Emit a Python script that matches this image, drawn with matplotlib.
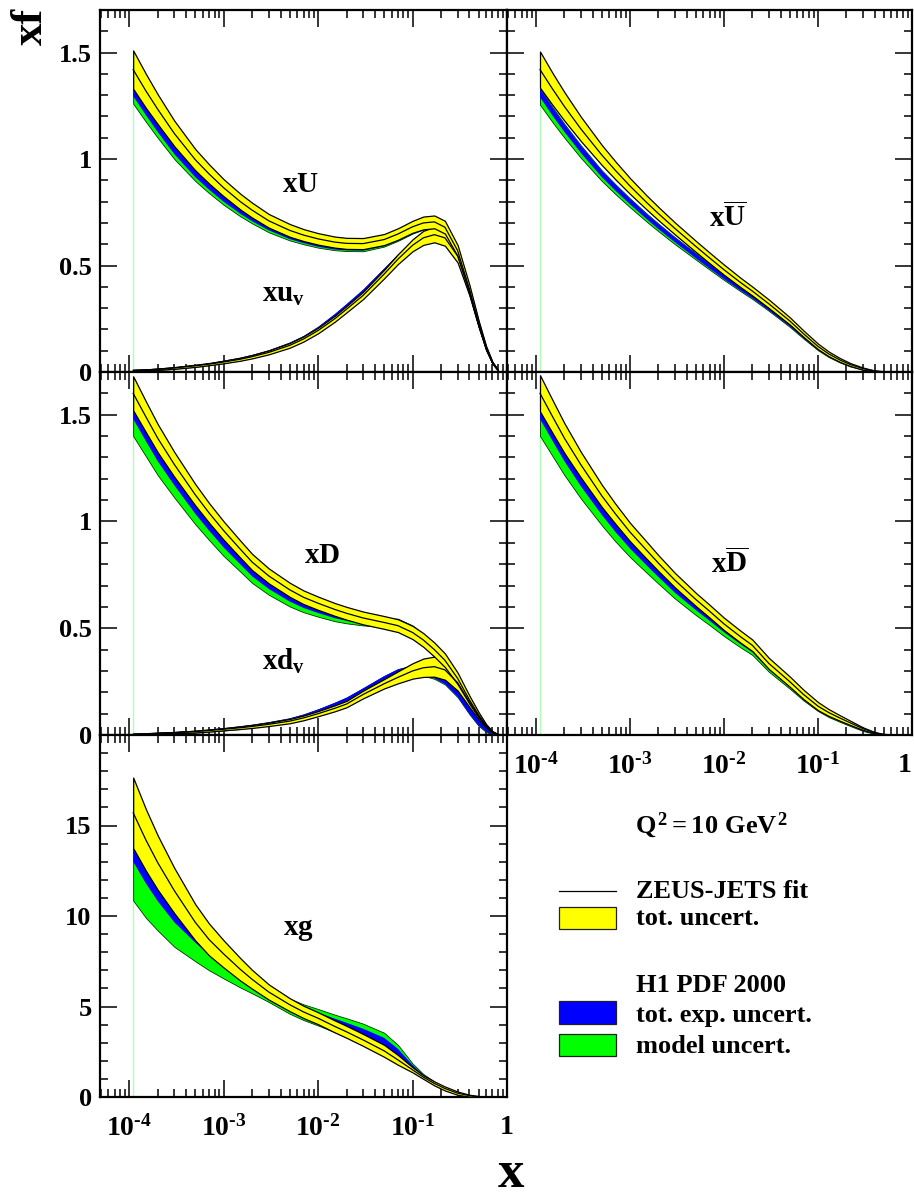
import numpy as np
import matplotlib
matplotlib.use('Agg')
import matplotlib.pyplot as plt
from matplotlib.ticker import LogLocator, MultipleLocator, NullFormatter
from matplotlib.patches import Rectangle
from matplotlib.lines import Line2D

plt.rcParams['font.family'] = ['Liberation Serif', 'DejaVu Serif']
plt.rcParams['font.weight'] = 'bold'
plt.rcParams['mathtext.fontset'] = 'custom'
for k in ('rm', 'it', 'bf', 'sf'):
    plt.rcParams['mathtext.' + k] = 'Liberation Serif:bold'

# ---------------- data ----------------
X = [1.1e-4, 1.5e-4, 2e-4, 3e-4, 5e-4, 7e-4, 1e-3, 1.5e-3, 2e-3, 3e-3,
     5e-3, 7e-3, 0.01, 0.015, 0.02, 0.03, 0.05, 0.07, 0.1, 0.13,
     0.17, 0.22, 0.3, 0.4, 0.5, 0.6, 0.7, 0.8]

# xU
XU_ZEUS = [1.42, 1.32, 1.234, 1.12, 0.997, 0.93, 0.865, 0.80, 0.76, 0.71,
           0.665, 0.643, 0.625, 0.61, 0.604, 0.603, 0.622, 0.648, 0.682, 0.70,
           0.705, 0.68, 0.57, 0.39, 0.23, 0.115, 0.045, 0.01]
XU_ZEUS_ERR = [0.09, 0.08, 0.07, 0.06, 0.05, 0.045, 0.04, 0.037, 0.035, 0.032,
               0.03, 0.028, 0.027, 0.026, 0.026, 0.026, 0.026, 0.027, 0.028, 0.03,
               0.03, 0.03, 0.026, 0.019, 0.012, 0.007, 0.003, 0.001]
XU_H1 = [1.315, 1.225, 1.145, 1.04, 0.93, 0.87, 0.812, 0.755, 0.72, 0.676,
         0.635, 0.615, 0.598, 0.585, 0.581, 0.58, 0.602, 0.63, 0.665, 0.685,
         0.69, 0.668, 0.562, 0.385, 0.225, 0.112, 0.044, 0.01]
XU_H1_EXP = [0.02, 0.019, 0.018, 0.017, 0.015, 0.014, 0.013, 0.012, 0.012, 0.011,
             0.011, 0.01, 0.01, 0.01, 0.01, 0.01, 0.011, 0.012, 0.013, 0.014,
             0.015, 0.015, 0.013, 0.01, 0.007, 0.004, 0.002, 0.001]
XU_H1_TOT_DN = [0.055, 0.05, 0.045, 0.04, 0.033, 0.03, 0.027, 0.024, 0.022, 0.02,
                0.017, 0.015, 0.014, 0.013, 0.013, 0.013, 0.013, 0.014, 0.015, 0.016,
                0.017, 0.017, 0.015, 0.012, 0.008, 0.005, 0.002, 0.001]
XU_H1_TOT_UP = [0.023, 0.022, 0.021, 0.02, 0.018, 0.017, 0.016, 0.015, 0.015, 0.014,
                0.014, 0.013, 0.013, 0.013, 0.013, 0.013, 0.014, 0.015, 0.016, 0.017,
                0.018, 0.018, 0.016, 0.013, 0.009, 0.005, 0.002, 0.001]

# xu_v
XUV_ZEUS = [0.008, 0.01, 0.013, 0.019, 0.029, 0.037, 0.047, 0.06, 0.072, 0.092,
            0.125, 0.155, 0.195, 0.25, 0.295, 0.36, 0.46, 0.53, 0.595, 0.63,
            0.645, 0.63, 0.545, 0.38, 0.225, 0.112, 0.044, 0.01]
XUV_ZEUS_ERR = [0.002, 0.002, 0.003, 0.004, 0.005, 0.005, 0.006, 0.007, 0.008, 0.009,
                0.011, 0.012, 0.013, 0.014, 0.015, 0.017, 0.02, 0.023, 0.028, 0.033,
                0.036, 0.037, 0.031, 0.02, 0.012, 0.007, 0.003, 0.001]
XUV_H1 = [0.008, 0.01, 0.013, 0.019, 0.029, 0.037, 0.048, 0.061, 0.074, 0.095,
          0.13, 0.161, 0.203, 0.262, 0.308, 0.375, 0.473, 0.538, 0.597, 0.627,
          0.638, 0.62, 0.535, 0.372, 0.22, 0.108, 0.042, 0.009]
XUV_H1_EXP = [0.001, 0.001, 0.002, 0.002, 0.003, 0.003, 0.004, 0.005, 0.005, 0.006,
              0.007, 0.007, 0.008, 0.009, 0.01, 0.011, 0.012, 0.013, 0.014, 0.015,
              0.015, 0.015, 0.013, 0.01, 0.007, 0.004, 0.002, 0.001]
XUV_H1_TOT_DN = [0.003, 0.003, 0.004, 0.004, 0.005, 0.005, 0.006, 0.007, 0.007, 0.008,
                 0.009, 0.009, 0.01, 0.011, 0.012, 0.013, 0.014, 0.015, 0.016, 0.017,
                 0.017, 0.017, 0.015, 0.012, 0.009, 0.006, 0.004, 0.003]
XUV_H1_TOT_UP = XUV_H1_TOT_DN

# xUbar
XUB_ZEUS = [1.42, 1.328, 1.247, 1.141, 1.019, 0.946, 0.873, 0.796, 0.744, 0.674,
            0.59, 0.536, 0.48, 0.42, 0.38, 0.32, 0.24, 0.18, 0.12, 0.085,
            0.057, 0.035, 0.016, 0.005, 0.0015, 0.0, 0.0, 0.0]
XUB_ZEUS_ERR = [0.085, 0.075, 0.067, 0.057, 0.047, 0.042, 0.037, 0.033, 0.031, 0.028,
                0.026, 0.025, 0.024, 0.022, 0.021, 0.02, 0.017, 0.015, 0.013, 0.011,
                0.009, 0.007, 0.005, 0.002, 0.001, 0.0, 0.0, 0.0]
XUB_H1 = [1.31, 1.222, 1.145, 1.045, 0.93, 0.865, 0.80, 0.73, 0.683, 0.62,
          0.545, 0.496, 0.446, 0.392, 0.355, 0.298, 0.222, 0.166, 0.109, 0.076,
          0.05, 0.03, 0.013, 0.004, 0.001, 0.0, 0.0, 0.0]
XUB_H1_EXP = [0.02, 0.019, 0.018, 0.017, 0.015, 0.014, 0.013, 0.012, 0.012, 0.011,
              0.011, 0.01, 0.01, 0.01, 0.009, 0.009, 0.008, 0.007, 0.006, 0.005,
              0.004, 0.003, 0.002, 0.001, 0.0, 0.0, 0.0, 0.0]
XUB_H1_TOT_DN = [0.055, 0.05, 0.045, 0.04, 0.033, 0.03, 0.027, 0.024, 0.022, 0.02,
                 0.017, 0.015, 0.014, 0.013, 0.012, 0.011, 0.01, 0.009, 0.007, 0.006,
                 0.005, 0.004, 0.002, 0.001, 0.0, 0.0, 0.0, 0.0]
XUB_H1_TOT_UP = [0.022, 0.021, 0.02, 0.019, 0.017, 0.016, 0.015, 0.014, 0.014, 0.013,
                 0.013, 0.012, 0.012, 0.012, 0.011, 0.011, 0.01, 0.009, 0.008, 0.007,
                 0.006, 0.005, 0.003, 0.001, 0.0, 0.0, 0.0, 0.0]

# xD
XD_ZEUS = [1.60, 1.49, 1.39, 1.267, 1.125, 1.04, 0.957, 0.87, 0.81, 0.745,
           0.68, 0.645, 0.617, 0.588, 0.57, 0.548, 0.527, 0.512, 0.48, 0.445,
           0.40, 0.35, 0.265, 0.165, 0.095, 0.045, 0.015, 0.003]
XD_ZEUS_ERR = [0.08, 0.072, 0.066, 0.058, 0.05, 0.046, 0.043, 0.04, 0.038, 0.035,
               0.033, 0.032, 0.031, 0.03, 0.03, 0.03, 0.03, 0.03, 0.031, 0.032,
               0.033, 0.032, 0.027, 0.019, 0.012, 0.006, 0.003, 0.001]
XD_H1 = [1.505, 1.40, 1.305, 1.19, 1.055, 0.975, 0.895, 0.815, 0.758, 0.698,
         0.638, 0.608, 0.584, 0.56, 0.548, 0.535, 0.527, 0.524, 0.49, 0.45,
         0.39, 0.325, 0.23, 0.13, 0.065, 0.025, 0.006, 0.001]
XD_H1_EXP = [0.025, 0.024, 0.023, 0.021, 0.019, 0.018, 0.017, 0.016, 0.015, 0.014,
             0.013, 0.013, 0.013, 0.013, 0.013, 0.014, 0.016, 0.018, 0.02, 0.021,
             0.022, 0.022, 0.02, 0.015, 0.01, 0.005, 0.002, 0.001]
XD_H1_TOT_DN = [0.105, 0.095, 0.088, 0.078, 0.068, 0.062, 0.057, 0.05, 0.046, 0.041,
                0.036, 0.033, 0.03, 0.027, 0.025, 0.022, 0.02, 0.02, 0.022, 0.023,
                0.024, 0.024, 0.022, 0.017, 0.011, 0.006, 0.002, 0.001]
XD_H1_TOT_UP = [0.028, 0.027, 0.026, 0.024, 0.022, 0.021, 0.02, 0.019, 0.018, 0.017,
                0.016, 0.016, 0.016, 0.016, 0.016, 0.017, 0.019, 0.021, 0.023, 0.024,
                0.025, 0.025, 0.023, 0.017, 0.011, 0.006, 0.002, 0.001]

# xd_v
XDV_ZEUS = [0.004, 0.006, 0.008, 0.011, 0.016, 0.021, 0.027, 0.034, 0.04, 0.05,
            0.065, 0.08, 0.10, 0.125, 0.145, 0.19, 0.24, 0.27, 0.30, 0.315,
            0.32, 0.305, 0.245, 0.155, 0.088, 0.042, 0.014, 0.003]
XDV_ZEUS_ERR = [0.001, 0.0015, 0.002, 0.003, 0.004, 0.005, 0.005, 0.006, 0.007, 0.008,
                0.01, 0.011, 0.012, 0.014, 0.015, 0.018, 0.022, 0.028, 0.036, 0.043,
                0.047, 0.046, 0.037, 0.024, 0.014, 0.007, 0.003, 0.001]
XDV_H1 = [0.004, 0.006, 0.008, 0.011, 0.016, 0.021, 0.027, 0.035, 0.042, 0.053,
          0.07, 0.087, 0.11, 0.14, 0.163, 0.205, 0.26, 0.29, 0.305, 0.30,
          0.285, 0.258, 0.195, 0.11, 0.052, 0.02, 0.005, 0.001]
XDV_H1_EXP = [0.001, 0.001, 0.002, 0.002, 0.003, 0.003, 0.004, 0.005, 0.005, 0.006,
              0.007, 0.008, 0.009, 0.01, 0.011, 0.013, 0.015, 0.017, 0.019, 0.02,
              0.02, 0.019, 0.016, 0.011, 0.007, 0.004, 0.002, 0.001]
XDV_H1_TOT_DN = [0.003, 0.003, 0.004, 0.004, 0.005, 0.005, 0.006, 0.007, 0.007, 0.008,
                 0.009, 0.01, 0.011, 0.012, 0.013, 0.015, 0.017, 0.019, 0.021, 0.022,
                 0.022, 0.021, 0.018, 0.013, 0.009, 0.006, 0.003, 0.002]
XDV_H1_TOT_UP = XDV_H1_TOT_DN

# xDbar
XDB_ZEUS = [1.60, 1.49, 1.39, 1.265, 1.12, 1.035, 0.95, 0.865, 0.805, 0.725,
            0.635, 0.58, 0.52, 0.46, 0.42, 0.335, 0.25, 0.19, 0.135, 0.105,
            0.08, 0.057, 0.03, 0.011, 0.003, 0.001, 0.0, 0.0]
XDB_ZEUS_ERR = [0.085, 0.077, 0.07, 0.06, 0.052, 0.047, 0.043, 0.04, 0.037, 0.034,
                0.031, 0.03, 0.029, 0.028, 0.027, 0.026, 0.024, 0.022, 0.019, 0.016,
                0.013, 0.01, 0.006, 0.003, 0.001, 0.0, 0.0, 0.0]
XDB_H1 = [1.505, 1.40, 1.305, 1.185, 1.05, 0.968, 0.89, 0.81, 0.755, 0.68,
          0.598, 0.548, 0.493, 0.437, 0.40, 0.318, 0.236, 0.178, 0.125, 0.095,
          0.071, 0.049, 0.023, 0.007, 0.002, 0.0, 0.0, 0.0]
XDB_H1_EXP = [0.025, 0.024, 0.023, 0.021, 0.019, 0.018, 0.017, 0.016, 0.015, 0.014,
              0.013, 0.013, 0.012, 0.012, 0.012, 0.011, 0.011, 0.01, 0.009, 0.008,
              0.007, 0.006, 0.004, 0.002, 0.001, 0.0, 0.0, 0.0]
XDB_H1_TOT_DN = [0.105, 0.095, 0.088, 0.078, 0.068, 0.062, 0.057, 0.05, 0.046, 0.041,
                 0.036, 0.033, 0.03, 0.027, 0.025, 0.022, 0.019, 0.016, 0.013, 0.011,
                 0.009, 0.007, 0.004, 0.002, 0.001, 0.0, 0.0, 0.0]
XDB_H1_TOT_UP = [0.028, 0.027, 0.026, 0.024, 0.022, 0.021, 0.02, 0.019, 0.018, 0.017,
                 0.016, 0.016, 0.015, 0.015, 0.015, 0.014, 0.014, 0.013, 0.012, 0.011,
                 0.01, 0.009, 0.006, 0.003, 0.001, 0.0, 0.0, 0.0]

# xg
XG_ZEUS = [15.7, 14.2, 12.95, 11.4, 9.65, 8.7, 7.9, 7.05, 6.5, 5.8,
           5.1, 4.7, 4.35, 3.9, 3.6, 3.15, 2.55, 2.05, 1.5, 1.1,
           0.75, 0.47, 0.21, 0.075, 0.024, 0.006, 0.001, 0.0]
XG_ZEUS_ERR = [1.95, 1.7, 1.5, 1.25, 1.0, 0.88, 0.75, 0.62, 0.52, 0.42,
               0.36, 0.34, 0.33, 0.33, 0.33, 0.33, 0.33, 0.27, 0.14, 0.1,
               0.11, 0.11, 0.09, 0.05, 0.02, 0.006, 0.001, 0.0]
XG_H1 = [13.4, 12.2, 11.2, 10.0, 8.85, 8.15, 7.5, 6.8, 6.35, 5.75,
         5.05, 4.7, 4.4, 4.05, 3.8, 3.45, 2.95, 2.4, 1.65, 1.15,
         0.77, 0.46, 0.2, 0.07, 0.02, 0.005, 0.001, 0.0]
XG_H1_EXP = [0.4, 0.4, 0.38, 0.35, 0.32, 0.3, 0.28, 0.26, 0.24, 0.22,
             0.22, 0.24, 0.26, 0.28, 0.3, 0.32, 0.32, 0.26, 0.12, 0.08,
             0.06, 0.04, 0.025, 0.012, 0.005, 0.002, 0.0, 0.0]
XG_H1_TOT_DN = [2.55, 2.3, 2.0, 1.7, 1.35, 1.15, 0.95, 0.75, 0.62, 0.5,
                0.45, 0.45, 0.45, 0.47, 0.5, 0.52, 0.5, 0.4, 0.16, 0.11,
                0.08, 0.05, 0.03, 0.015, 0.006, 0.002, 0.0, 0.0]
XG_H1_TOT_UP = [0.5, 0.5, 0.5, 0.5, 0.48, 0.46, 0.44, 0.42, 0.4, 0.38,
                0.38, 0.42, 0.46, 0.5, 0.55, 0.6, 0.6, 0.48, 0.2, 0.12,
                0.09, 0.05, 0.03, 0.015, 0.006, 0.002, 0.0, 0.0]

YTICKS_Q = [0, 0.5, 1, 1.5]
YTICKLABELS_Q = ['0', '0.5', '1', '1.5']
YTICKS_G = [0, 5, 10, 15]
YTICKLABELS_G = ['0', '5', '10', '15']
XTICKS = [1e-4, 1e-3, 1e-2, 1e-1, 1]
XTICKLABELS = [r'$10^{\text{-}4}$', r'$10^{\text{-}3}$', r'$10^{\text{-}2}$',
               r'$10^{\text{-}1}$', '1']

# ---------------- figure ----------------
W, H = 914, 1199
fig = plt.figure(figsize=(W / 100, H / 100), dpi=100)


def add_ax(l, t, r, b):
    return fig.add_axes([l / W, 1 - b / H, (r - l) / W, (b - t) / H])


def fpos(x, y):
    return x / W, 1 - y / H


YELLOW = '#ffff00'
BLUE = '#0000ff'
GREEN = '#00ff00'


def draw_pdf(ax, zc, ze, hc, he, hdn, hup):
    x = np.array(X)
    zc, ze = np.array(zc), np.array(ze)
    hc, he = np.array(hc), np.array(he)
    hdn, hup = np.array(hdn), np.array(hup)
    ax.fill_between(x, hc - hdn, hc + hup, facecolor=GREEN, edgecolor='#003300',
                    linewidth=0.6, zorder=2)
    ax.fill_between(x, hc - he, hc + he, facecolor=BLUE, edgecolor='none',
                    linewidth=0, zorder=3)
    ax.fill_between(x, zc - ze, zc + ze, facecolor=YELLOW, edgecolor='black',
                    linewidth=0.9, zorder=4)
    ax.plot(x, zc, color='black', lw=0.9, zorder=5)
    ax.vlines(x[0], 0, (zc + ze)[0], color='#b0ffb0', lw=1.0, zorder=1)


def style_ax(ax, ylim, ymaj, ymin, ylabels, xlabels):
    ax.set_xscale('log')
    ax.set_xlim(10 ** -4.31, 1.0)
    ax.set_ylim(*ylim)
    ax.xaxis.set_major_locator(LogLocator(base=10, numticks=10))
    ax.xaxis.set_minor_locator(LogLocator(base=10, subs=np.arange(2, 10), numticks=10))
    ax.yaxis.set_minor_locator(MultipleLocator(ymin))
    ax.tick_params(which='both', direction='in', top=True, right=True,
                   width=1.1, color='black')
    ax.tick_params(which='major', length=12.5)
    ax.tick_params(which='minor', length=6)
    if ylabels is not None:
        ax.set_yticks(ymaj, ylabels)
        ax.tick_params(axis='y', labelsize=19, pad=6)
    else:
        ax.set_yticks(ymaj)
        ax.yaxis.set_major_formatter(NullFormatter())
    if xlabels:
        ax.set_xticks(XTICKS, XTICKLABELS)
        ax.tick_params(axis='x', labelsize=20, pad=13)
    else:
        ax.set_xticks(XTICKS)
        ax.xaxis.set_major_formatter(NullFormatter())
    ax.xaxis.set_minor_formatter(NullFormatter())
    for s in ax.spines.values():
        s.set_linewidth(1.6)
    for lab in ax.get_xticklabels() + ax.get_yticklabels():
        lab.set_fontweight('bold')


L0, L1, R1 = 100, 507, 912
T0, T1, T2, T3 = 10, 372, 735, 1097

ax_u = add_ax(L0, T0, L1, T1)
ax_ub = add_ax(L1, T0, R1, T1)
ax_d = add_ax(L0, T1, L1, T2)
ax_db = add_ax(L1, T1, R1, T2)
ax_g = add_ax(L0, T2, L1, T3)

draw_pdf(ax_u, XUV_ZEUS, XUV_ZEUS_ERR, XUV_H1, XUV_H1_EXP, XUV_H1_TOT_DN, XUV_H1_TOT_UP)
draw_pdf(ax_u, XU_ZEUS, XU_ZEUS_ERR, XU_H1, XU_H1_EXP, XU_H1_TOT_DN, XU_H1_TOT_UP)
draw_pdf(ax_ub, XUB_ZEUS, XUB_ZEUS_ERR, XUB_H1, XUB_H1_EXP, XUB_H1_TOT_DN, XUB_H1_TOT_UP)
draw_pdf(ax_d, XDV_ZEUS, XDV_ZEUS_ERR, XDV_H1, XDV_H1_EXP, XDV_H1_TOT_DN, XDV_H1_TOT_UP)
draw_pdf(ax_d, XD_ZEUS, XD_ZEUS_ERR, XD_H1, XD_H1_EXP, XD_H1_TOT_DN, XD_H1_TOT_UP)
draw_pdf(ax_db, XDB_ZEUS, XDB_ZEUS_ERR, XDB_H1, XDB_H1_EXP, XDB_H1_TOT_DN, XDB_H1_TOT_UP)
draw_pdf(ax_g, XG_ZEUS, XG_ZEUS_ERR, XG_H1, XG_H1_EXP, XG_H1_TOT_DN, XG_H1_TOT_UP)

style_ax(ax_u, (0, 1.7), YTICKS_Q, 0.1, YTICKLABELS_Q, False)
style_ax(ax_ub, (0, 1.7), YTICKS_Q, 0.1, None, False)
style_ax(ax_d, (0, 1.7), YTICKS_Q, 0.1, YTICKLABELS_Q, False)
style_ax(ax_db, (0, 1.7), YTICKS_Q, 0.1, None, True)
style_ax(ax_g, (0, 20), YTICKS_G, 1, YTICKLABELS_G, True)
# keep the last "1" label of the right panel inside the picture
ax_db.get_xticklabels()[-1].set_horizontalalignment('right')

# panel labels
lab_kw = dict(fontsize=21, ha='center', va='baseline')
fig.text(*fpos(300, 192), r'$xU$', **lab_kw)
fig.text(*fpos(283, 302), r'$xu_v$', **lab_kw)
fig.text(*fpos(728, 227), r'$x\overline{U}$', **lab_kw)
fig.text(*fpos(322, 563), r'$xD$', **lab_kw)
fig.text(*fpos(283, 670), r'$xd_v$', **lab_kw)
fig.text(*fpos(730, 573), r'$x\overline{D}$', **lab_kw)
fig.text(*fpos(298, 935), r'$xg$', **lab_kw)

# axis titles
fig.text(*fpos(31, 26), 'xf', fontsize=32, fontweight='bold', rotation=90,
         ha='center', va='center')
fig.text(*fpos(511, 1198), 'x', fontsize=38, fontweight='bold', ha='center', va='bottom')

# Q^2 label
fig.text(*fpos(711, 833), r'$Q^2 = 10\ GeV^2$', fontsize=19, ha='center', va='baseline')

# legend
leg_fs = 19
fig.add_artist(Line2D([559 / W, 616 / W], [1 - 891 / H, 1 - 891 / H],
                      color='black', lw=0.9, transform=fig.transFigure))
fig.text(*fpos(636, 898), 'ZEUS-JETS fit', fontsize=leg_fs, fontweight='bold', va='baseline')


def leg_box(y0, y1, color):
    fig.add_artist(Rectangle(fpos(559, y1), 57 / W, (y1 - y0) / H, facecolor=color,
                             edgecolor='#202020', lw=0.9, transform=fig.transFigure))


leg_box(907, 929, YELLOW)
fig.text(*fpos(636, 925), 'tot. uncert.', fontsize=leg_fs, fontweight='bold', va='baseline')
fig.text(*fpos(636, 992), 'H1 PDF 2000', fontsize=leg_fs, fontweight='bold', va='baseline')
leg_box(1001, 1024, BLUE)
fig.text(*fpos(636, 1022), 'tot. exp. uncert.', fontsize=leg_fs, fontweight='bold', va='baseline')
leg_box(1034, 1056, GREEN)
fig.text(*fpos(636, 1053), 'model uncert.', fontsize=leg_fs, fontweight='bold', va='baseline')

fig.savefig('out.png', dpi=100)
